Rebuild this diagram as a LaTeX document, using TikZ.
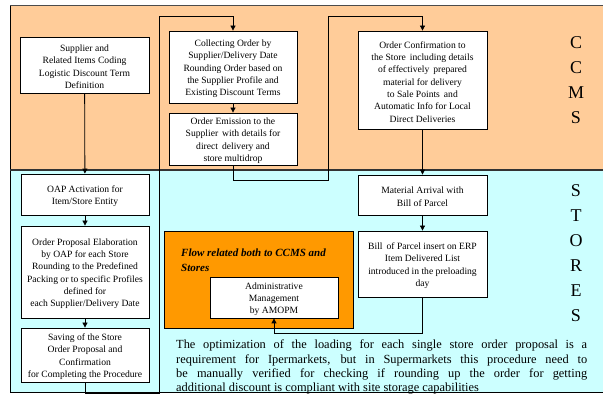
\documentclass[tikz,border=0pt]{standalone}
\usepackage{fontspec}
\setmainfont{Liberation Serif}
\usetikzlibrary{arrows.meta}
\definecolor{ccmsbg}{HTML}{FFCC99}
\definecolor{storebg}{HTML}{CCFFFF}
\definecolor{flowbg}{HTML}{FF9900}
\begin{document}
\begin{tikzpicture}[x=1pt,y=-1pt,
  proc/.style={draw=black,fill=white,line width=0.8pt,inner sep=0pt,minimum width=128pt},
  ptext/.style={align=center,inner sep=0pt,yshift=-1.8pt,font=\fontsize{9.6}{12.3}\selectfont},
  flow/.style={line width=0.8pt,-{Triangle[length=5pt,width=5pt]}},
  lane/.style={font=\fontsize{18}{25}\selectfont,align=center}]
\useasboundingbox (0,0) rectangle (603,395);
% swimlanes
\fill[ccmsbg] (10,6) rectangle (603,170);
\fill[storebg] (10,170) rectangle (603,393);
\draw[line width=1pt,black!70] (10,6) -- (603,6);
\draw[line width=1pt] (10,6) -- (10,393);
\draw[line width=1.2pt,black!80] (10,170) -- (603,170);
\draw[line width=1pt] (10,393) -- (603,393);
% lane titles
\node[lane] (ccms) at (576,80) {C\\C\\M\\S};
\node[lane] (stores) at (576,253.5) {S\\T\\O\\R\\E\\S};
% combined flow area
\node[draw=black,fill=flowbg,line width=0.8pt,minimum width=189pt,minimum height=97pt,inner sep=0pt] (both) at (258.5,279.5) {};
\node[anchor=north west,inner sep=0pt,align=left,font=\fontsize{11}{15}\selectfont\bfseries\itshape] (bothtxt) at (181,248.5) {Flow related both to CCMS and\\Stores};
\node[proc,minimum height=41pt,label={[ptext]center:{Administrative\\Management\\by AMOPM}}] (admin) at (274,297.5) {};
% left column
\node[proc,minimum width=129pt,minimum height=56pt,label={[ptext]center:{Supplier and\\Related Items Coding\\Logistic Discount Term\\Definition}}] (sup) at (84.5,65) {};
\node[proc,minimum height=41pt,label={[ptext]center:{OAP Activation for\\Item/Store Entity}}] (oap) at (85,194.5) {};
\node[proc,minimum height=92pt,label={[ptext]center:{Order Proposal Elaboration\\by OAP for each Store\\Rounding to the Predefined\\Packing or to specific Profiles\\defined for\\each Supplier/Delivery Date}}] (prop) at (85,272) {};
\node[proc,minimum height=54pt,label={[ptext]center:{Saving of the Store\\Order Proposal and\\Confirmation\\for Completing the Procedure}}] (save) at (85,355) {};
% middle column
\node[proc,minimum height=72pt,label={[ptext]center:{Collecting Order by\\Supplier/Delivery Date\\Rounding Order based on\\the Supplier Profile and\\Existing Discount Terms}}] (coll) at (233,67) {};
\node[proc,minimum height=52pt,label={[ptext]center:{Order Emission to the\\Supplier\, with details for\\direct\, delivery and\\store multidrop}}] (emis) at (233,139) {};
% right column
\node[proc,minimum width=129pt,minimum height=98pt,label={[ptext]center:{Order Confirmation to\\the Store\, including details\\of effectively\, prepared\\material for delivery\\to Sale Points\, and\\Automatic Info for Local\\Direct Deliveries}}] (conf) at (422.5,80) {};
\node[proc,minimum width=129pt,minimum height=40pt,label={[ptext]center:{Material Arrival with\\Bill of Parcel}}] (mat) at (422.5,195) {};
\node[proc,minimum width=129pt,minimum height=66pt,label={[ptext]center:{Bill\, of Parcel insert on ERP\\Item Delivered List\\introduced in the preloading\\day}}] (bill) at (422.5,264) {};
% route points
\coordinate (r1) at (85,393);
\coordinate (r2) at (159,393);
\coordinate (r3) at (159,16);
\coordinate (r4) at (233,180);
\coordinate (r5) at (328,180);
\coordinate (r6) at (328,16);
\coordinate (r7) at (422.5,333);
% connectors
\draw[flow] (sup) -- (oap);
\draw[flow] (oap) -- (prop);
\draw[flow] (prop) -- (save);
\draw[flow] (save) -- (r1) -- (r2) -- (r3) -| (coll.north);
\draw[flow] (coll) -- (emis);
\draw[flow] (emis.south) -- (r4) -- (r5) -- (r6) -| (conf.north);
\draw[flow] (conf) -- (mat);
\draw[flow] (mat) -- (bill);
\draw[flow] (bill.south) -- (r7) -| (admin.south);
% note
\node[anchor=north west,inner sep=0pt,text width=411pt,align=justify,
  font=\fontsize{12.4}{14.2}\selectfont] (note) at (176,340) {The optimization of the loading for each single store order proposal is a\linebreak requirement for Ipermarkets, but in Supermarkets this procedure need to\linebreak be manually verified for checking if rounding up the order for getting\linebreak additional discount is compliant with site storage capabilities};
\end{tikzpicture}
\end{document}
